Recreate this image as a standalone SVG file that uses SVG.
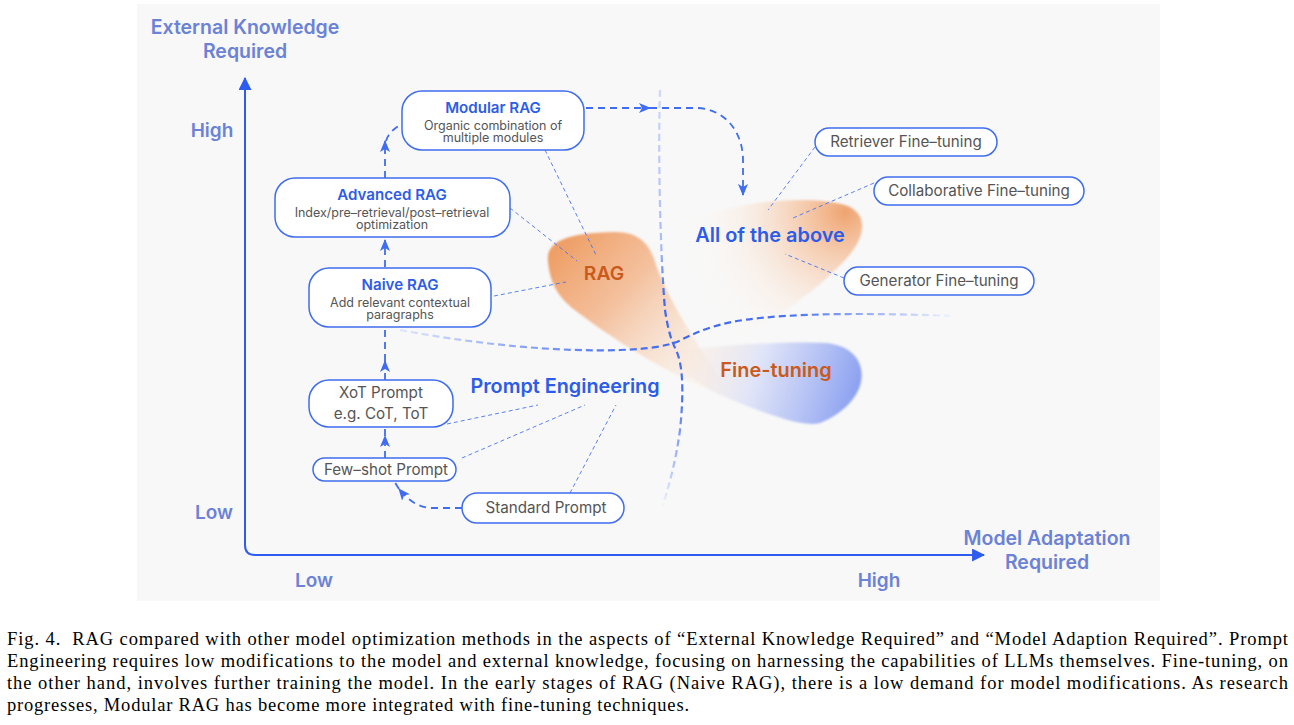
<svg xmlns="http://www.w3.org/2000/svg" width="1294" height="725" viewBox="0 0 1294 725">
<defs>
<style>
.ax{font-family:Inter,"Noto Sans",sans-serif;font-weight:600;fill:#6b82d6;text-anchor:middle}
.box{fill:#fff;stroke:#3f6cf0;stroke-width:1.5}
.ttl{font-family:Inter,"Noto Sans",sans-serif;font-weight:600;font-size:15.1px;fill:#2c5ce8;text-anchor:middle}
.sub{font-family:Inter,"Noto Sans",sans-serif;font-size:12.5px;fill:#555;text-anchor:middle}
.lbl{font-family:Inter,"Noto Sans",sans-serif;font-size:15.2px;fill:#555;text-anchor:middle}
.big{font-family:Inter,"Noto Sans",sans-serif;font-weight:600;text-anchor:middle}
.conn{fill:none;stroke:#3f6cf0;stroke-width:1.8;stroke-dasharray:7 5}
.lead{fill:none;stroke:#4a74f0;stroke-width:0.9;stroke-dasharray:4 3}
.sep{fill:none;stroke-width:2.2;stroke-dasharray:7 4}
.cap{font-family:"Liberation Serif","Times New Roman",serif;font-size:18.5px;fill:#000}
</style>
<marker id="ah" viewBox="0 0 12 12" refX="11" refY="6" markerWidth="12" markerHeight="12" markerUnits="userSpaceOnUse" orient="auto">
<path d="M0,1 L12,6 L0,11 L3,6 Z" fill="#3f6cf0"/>
</marker>
<marker id="axh" viewBox="0 0 12 12" refX="11" refY="6" markerWidth="13" markerHeight="13" markerUnits="userSpaceOnUse" orient="auto">
<path d="M0,0 L12,6 L0,12 Z" fill="#2f5cf0"/>
</marker>
<filter id="soft" x="-20%" y="-20%" width="140%" height="140%"><feGaussianBlur stdDeviation="1.2"/></filter>
<linearGradient id="gRag" gradientUnits="userSpaceOnUse" x1="560" y1="245" x2="725" y2="395">
<stop offset="0" stop-color="#ee9a5e" stop-opacity="0.95"/>
<stop offset="0.35" stop-color="#f3b286" stop-opacity="0.8"/>
<stop offset="0.7" stop-color="#f8d8bf" stop-opacity="0.5"/>
<stop offset="1" stop-color="#fdeee2" stop-opacity="0.1"/>
</linearGradient>
<radialGradient id="gAll" gradientUnits="userSpaceOnUse" cx="845" cy="212" r="175">
<stop offset="0" stop-color="#ef9f69" stop-opacity="0.95"/>
<stop offset="0.3" stop-color="#f5c4a1" stop-opacity="0.7"/>
<stop offset="0.6" stop-color="#fae3d2" stop-opacity="0.35"/>
<stop offset="0.85" stop-color="#fff6ee" stop-opacity="0.08"/>
<stop offset="1" stop-color="#fff6ee" stop-opacity="0"/>
</radialGradient>
<linearGradient id="gFt" gradientUnits="userSpaceOnUse" x1="680" y1="355" x2="862" y2="412">
<stop offset="0" stop-color="#fbe4d2" stop-opacity="0.2"/>
<stop offset="0.4" stop-color="#dde2f8" stop-opacity="0.85"/>
<stop offset="1" stop-color="#8299f0"/>
</linearGradient>
<linearGradient id="gV" gradientUnits="userSpaceOnUse" x1="0" y1="90" x2="0" y2="505">
<stop offset="0" stop-color="#cdd8f8"/>
<stop offset="0.38" stop-color="#a9bcf5"/>
<stop offset="0.5" stop-color="#3e68ee"/>
<stop offset="0.75" stop-color="#4c74ef"/>
<stop offset="1" stop-color="#eef2fd"/>
</linearGradient>
<linearGradient id="gH" gradientUnits="userSpaceOnUse" x1="400" y1="0" x2="955" y2="0">
<stop offset="0" stop-color="#dfe6fb"/>
<stop offset="0.35" stop-color="#5a7ff0"/>
<stop offset="0.5" stop-color="#3e68ee"/>
<stop offset="0.7" stop-color="#4a72ef"/>
<stop offset="1" stop-color="#f2f5fd"/>
</linearGradient>
</defs>

<rect x="0" y="0" width="1294" height="725" fill="#ffffff"/>
<rect x="137" y="4" width="1023" height="597" fill="#f8f8f8"/>

<g id="blobs">
<path d="M 680 226 C 730 200 810 194 848 206 C 870 216 864 240 846 259 C 812 296 762 330 698 356 C 650 330 645 250 680 226 Z" fill="url(#gAll)" filter="url(#soft)"/>
<path d="M 548 262 C 545 238 575 233 615 232 C 640 232 650 245 655 262 C 665 292 688 332 722 380 L 728 396 C 682 382 622 346 576 311 C 556 296 550 281 548 262 Z" fill="url(#gRag)" filter="url(#soft)"/>
<path d="M 668 352 C 720 345 790 341 826 343 C 856 346 866 366 860 386 C 855 401 840 415 820 423 C 800 428 760 411 730 399 C 705 389 686 376 668 352 Z" fill="url(#gFt)" filter="url(#soft)"/>
</g>

<g id="separators">
<path class="sep" stroke="url(#gV)" d="M 660 90 C 658 150 660 250 665 310 C 668 330 671 340 676 350 C 683 365 684 392 680 430 C 676 460 670 482 663 505"/>
<path class="sep" stroke="url(#gH)" d="M 400 330 C 480 345 560 352 620 350 C 650 349 665 346 677 342 C 700 330 720 322 760 318 C 820 312 900 314 955 316"/>
</g>

<g id="axes">
<path d="M 245 80 L 245 545 Q 245 555 255 555 L 982 555" fill="none" stroke="#2f5cf0" stroke-width="2"/>
<path d="M 245 90 L 245 78" fill="none" stroke="#2f5cf0" stroke-width="2" marker-end="url(#axh)"/>
<path d="M 970 555 L 984 555" fill="none" stroke="#2f5cf0" stroke-width="2" marker-end="url(#axh)"/>
<text class="ax" x="245" y="34" font-size="19.5">External Knowledge</text>
<text class="ax" x="245" y="58" font-size="19.5">Required</text>
<text class="ax" x="212" y="137" font-size="19">High</text>
<text class="ax" x="214" y="519" font-size="19">Low</text>
<text class="ax" x="314" y="587" font-size="19">Low</text>
<text class="ax" x="879" y="587" font-size="19">High</text>
<text class="ax" x="1047" y="545" font-size="19.5">Model Adaptation</text>
<text class="ax" x="1047" y="569" font-size="19.5">Required</text>
</g>

<g id="connectors">
<path class="conn" d="M 385 458 L 385 436" marker-end="url(#ah)"/>
<path class="conn" d="M 385 436 L 385 428"/>
<path class="conn" d="M 385 380 L 385 361" marker-end="url(#ah)"/>
<path class="conn" d="M 385 361 L 385 327"/>
<path class="conn" d="M 385 267 L 385 240" marker-end="url(#ah)"/>
<path class="conn" d="M 385 178 L 385 141" marker-end="url(#ah)"/>
<path class="conn" d="M 386 141 C 388 133 395 128 402 124"/>
<path class="conn" d="M 462 508 L 430 508 C 418 507 408 500 399 489" marker-end="url(#ah)"/>
<path class="conn" d="M 399 489 L 394 481"/>
<path class="conn" d="M 586 108 L 650 108" marker-end="url(#ah)"/>
<path class="conn" d="M 650 108 L 698 108 C 728 110 743 135 743 160 L 743 195" marker-end="url(#ah)"/>
<path class="lead" d="M 545 150 L 596 255"/>
<path class="lead" d="M 510 208 L 577 261"/>
<path class="lead" d="M 494 296 L 566 282"/>
<path class="lead" d="M 447 424 L 538 405"/>
<path class="lead" d="M 462 458 L 585 405"/>
<path class="lead" d="M 570 493 L 616 405"/>
<path class="lead" d="M 815 147 L 768 210"/>
<path class="lead" d="M 874 183 L 793 218"/>
<path class="lead" d="M 844 278 L 785 254"/>
</g>

<g id="modular-rag">
<rect class="box" x="402" y="91" width="182" height="59" rx="20"/>
<text class="ttl" x="493" y="113">Modular RAG</text>
<text class="sub" x="493" y="129.5">Organic combination of</text>
<text class="sub" x="493" y="142">multiple modules</text>
</g>
<g id="advanced-rag">
<rect class="box" x="275" y="178" width="235" height="59" rx="20"/>
<text class="ttl" x="392" y="200">Advanced RAG</text>
<text class="sub" x="392" y="216.5">Index/pre–retrieval/post–retrieval</text>
<text class="sub" x="392" y="229">optimization</text>
</g>
<g id="naive-rag">
<rect class="box" x="309" y="268" width="182" height="59" rx="20"/>
<text class="ttl" x="400" y="290">Naive RAG</text>
<text class="sub" x="400" y="306.5">Add relevant contextual</text>
<text class="sub" x="400" y="319">paragraphs</text>
</g>
<g id="xot-prompt">
<rect class="box" x="309" y="380" width="144" height="47" rx="20"/>
<text class="lbl" x="381" y="398">XoT Prompt</text>
<text class="lbl" x="381" y="419">e.g. CoT, ToT</text>
</g>
<g id="few-shot-prompt">
<rect class="box" x="313" y="458" width="143" height="23" rx="11.5"/>
<text class="lbl" x="386" y="475">Few–shot Prompt</text>
</g>
<g id="standard-prompt">
<rect class="box" x="462" y="493" width="162" height="30" rx="15"/>
<text class="lbl" x="546" y="513">Standard Prompt</text>
</g>
<g id="retriever-ft">
<rect class="box" x="815" y="128" width="182" height="28" rx="14"/>
<text class="lbl" x="906" y="147">Retriever Fine–tuning</text>
</g>
<g id="collaborative-ft">
<rect class="box" x="874" y="177" width="210" height="28" rx="14"/>
<text class="lbl" x="979" y="196">Collaborative Fine–tuning</text>
</g>
<g id="generator-ft">
<rect class="box" x="844" y="267" width="190" height="28" rx="14"/>
<text class="lbl" x="939" y="286">Generator Fine–tuning</text>
</g>

<g id="region-labels">
<text class="big" x="604" y="280" font-size="19.3" fill="#c95a1c">RAG</text>
<text class="big" x="770" y="242" font-size="19.9" fill="#2c5ce8">All of the above</text>
<text class="big" x="776" y="377" font-size="19.9" fill="#c95a1c">Fine-tuning</text>
<text class="big" x="565" y="393" font-size="19.8" fill="#2c5ce8">Prompt Engineering</text>
</g>

<g id="caption">
<text class="cap" x="7" y="645" textLength="1281" lengthAdjust="spacing">Fig. 4.&#160; RAG compared with other model optimization methods in the aspects of “External Knowledge Required” and “Model Adaption Required”. Prompt</text>
<text class="cap" x="7" y="667" textLength="1281" lengthAdjust="spacing">Engineering requires low modifications to the model and external knowledge, focusing on harnessing the capabilities of LLMs themselves. Fine-tuning, on</text>
<text class="cap" x="7" y="689" textLength="1281" lengthAdjust="spacing">the other hand, involves further training the model. In the early stages of RAG (Naive RAG), there is a low demand for model modifications. As research</text>
<text class="cap" x="7" y="711" textLength="682" lengthAdjust="spacing">progresses, Modular RAG has become more integrated with fine-tuning techniques.</text>
</g>
</svg>
